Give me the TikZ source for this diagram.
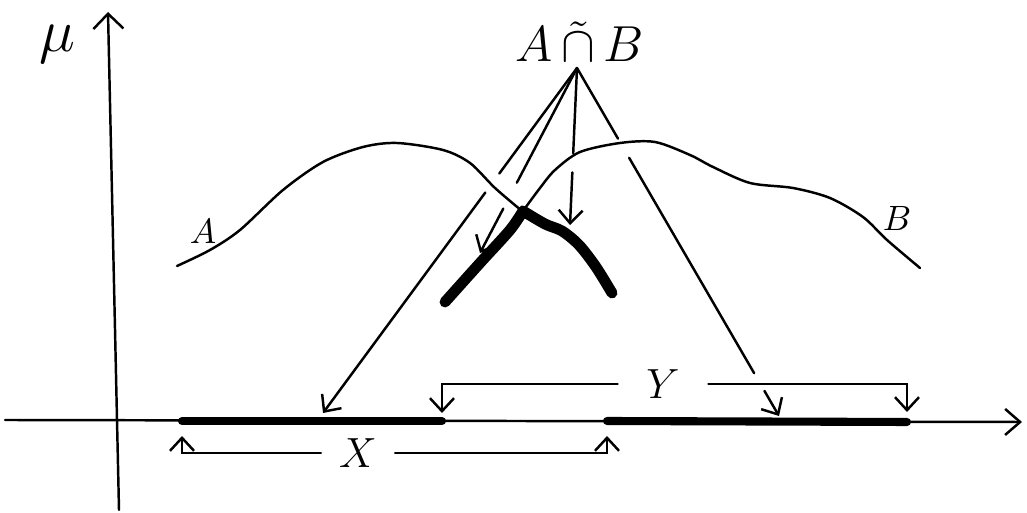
\documentclass[tikz,border=0pt]{standalone}
\usepackage{amsmath,amssymb}
\usepackage{xcolor}
\usepackage{tikz}
\usetikzlibrary{arrows.meta,calc}

\begin{document}
\begin{tikzpicture}[
    x=0.01cm, y=-0.01cm,
    >={Straight Barb[length=1.3mm,width=2.4mm]},
    trait/.style={line width=0.7pt, line cap=round},
    epais/.style={line width=3.1pt, line cap=round, line join=round},
    support/.style={line width=2.3pt, line cap=round},
    lbl/.style={font=\large, inner sep=2pt}
  ]
    \useasboundingbox (0,0) rectangle (1027,513);

    % Axes
    \draw[trait, -{Straight Barb[length=1.5mm,width=3mm]}] (119,510) -- (108,12);
    \draw[trait, -{Straight Barb[length=1.5mm,width=2.6mm]}] (5,420) -- (1022,422);
    \node[lbl, font=\LARGE] (mu) at (57,44) {$\mu$};

    % Courbes A et B
    \draw[trait] plot[smooth] coordinates {(177,266) (210,250) (240,230) (283,190) (323,162)
      (363,147) (397,143) (443,150) (470,163) (495,188) (522,211)};
    \draw[trait] plot[smooth] coordinates {(523,211) (540,188) (555,170) (580,152) (620,143)
      (655,142) (690,155) (713,167) (750,183) (793,188) (830,198) (863,217) (887,240) (920,268)};
    \node[lbl, font=\normalsize] (lblA) at (203,231) {$A$};
    \node[lbl, font=\normalsize] (lblB) at (897,218) {$B$};

    % Intersection floue (trait epais)
    \draw[epais] plot[smooth] coordinates {(445,302) (480,263) (510,230) (523,211)};
    \draw[epais] plot[smooth] coordinates {(523,211) (545,224) (562,231) (579,245) (596,267) (612,293)};

    % Supports X et Y sur l'axe
    \coordinate (xa) at (182,421);
    \coordinate (xb) at (442,421);
    \coordinate (ya) at (607,421);
    \coordinate (yb) at (907,422);
    \draw[support] (xa) -- (xb);
    \draw[support] (ya) -- (yb);

    % Accolades X et Y
    \node[lbl, inner xsep=5pt] (xlbl) at (358,453) {$X$};
    \node[lbl, inner xsep=8pt] (ylbl) at (663,384) {$Y$};
    \draw[trait, ->] (xlbl.west) -| ([yshift=-1.5mm]xa);
    \draw[trait, ->] (xlbl.east) -| ([yshift=-1.5mm]ya);
    \draw[trait, ->] (ylbl.west) -| ([yshift=0.8mm]xb);
    \draw[trait, ->] (ylbl.east) -| ([yshift=1mm]yb);

    % Etiquette et fleches
    \node[lbl, font=\Large] (inter) at (580,42) {$A\,\tilde{\cap}\,B$};
    \coordinate (apex) at (577,68);
    \coordinate (t1) at (323,413);
    \coordinate (t2) at (480,253);
    \coordinate (t3) at (570,225);
    \coordinate (t4) at (779,416);
    \draw[trait, ->] (apex) -- ($(apex)!0.306!(t1)$) ($(apex)!0.361!(t1)$) -- (t1);
    \draw[trait, ->] (apex) -- ($(apex)!0.62!(t2)$) ($(apex)!0.76!(t2)$) -- (t2);
    \draw[trait, ->] (apex) -- ($(apex)!0.544!(t3)$) ($(apex)!0.665!(t3)$) -- (t3);
    \draw[trait, ->] (apex) -- ($(apex)!0.203!(t4)$) ($(apex)!0.258!(t4)$) -- ($(apex)!0.877!(t4)$)
      ($(apex)!0.928!(t4)$) -- (t4);

\end{tikzpicture}
\end{document}
